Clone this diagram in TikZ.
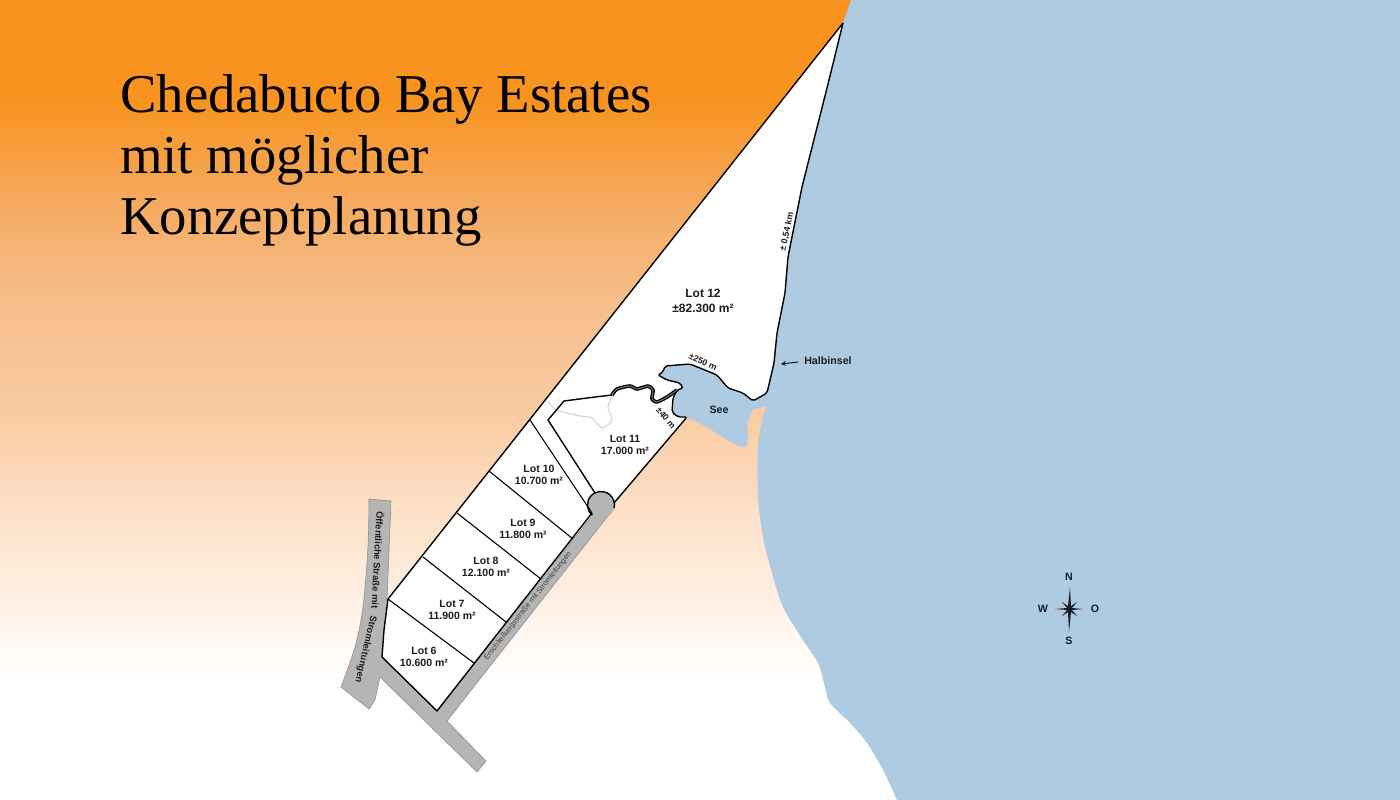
\documentclass[tikz,border=0pt]{standalone}
\usepackage{fontspec}
\setmainfont{Liberation Serif}
\setsansfont{Liberation Sans}
\newlength{\du}
\setlength{\du}{0.75pt}
\definecolor{seacolor}{rgb}{0.686275, 0.796078, 0.886275}
\definecolor{roadcolor}{rgb}{0.710000, 0.710000, 0.710000}
\definecolor{inkcolor}{rgb}{0.110000, 0.110000, 0.120000}
\definecolor{orange0}{rgb}{0.968627, 0.576471, 0.117647}
\definecolor{orange1}{rgb}{0.960000, 0.665000, 0.370000}
\definecolor{orange2}{rgb}{0.960000, 0.745000, 0.545000}
\definecolor{orange3}{rgb}{0.980000, 0.800000, 0.640000}
\definecolor{orange4}{rgb}{0.990000, 0.870000, 0.770000}
\definecolor{orange5}{rgb}{0.998000, 0.940000, 0.890000}
\pgfdeclareverticalshading{landshade}{100bp}{
  color(0bp)=(white); color(25bp)=(white); color(32.5bp)=(white);
  color(37.5bp)=(orange5); color(43.75bp)=(orange4); color(48.75bp)=(orange3);
  color(56.25bp)=(orange2); color(62.5bp)=(orange1); color(68.75bp)=(orange0);
  color(75bp)=(orange0); color(100bp)=(orange0)}
\tikzset{
  landline/.style={draw=black, line width=1.4\du, line join=round},
  lotline/.style={draw=black, line width=1.1\du},
  roadfill/.style={fill=roadcolor, draw=roadcolor!80!black, line width=0.6\du},
  lotlabel/.style={font=\sffamily\bfseries\fontsize{7.9}{9.2}\selectfont, text=inkcolor, align=center, inner sep=0pt},
  biglabel/.style={font=\sffamily\bfseries\fontsize{9}{11}\selectfont, text=inkcolor, align=center, inner sep=0pt},
  dimlabel/.style={font=\sffamily\bfseries\fontsize{6.6}{8}\selectfont, text=inkcolor, inner sep=0pt},
  pointlabel/.style={font=\sffamily\bfseries\fontsize{8}{9}\selectfont, text=inkcolor, inner sep=0pt},
  roadlabel/.style={font=\sffamily\bfseries\fontsize{7}{8}\selectfont, text=inkcolor, inner sep=0pt}
}

\begin{document}
\begin{tikzpicture}
\pgftransformxscale{1.000000}
\pgftransformyscale{-1.000000}
\useasboundingbox (0\du,0\du) rectangle (1400\du,800\du);
% land
\path[shading=landshade] (0\du,0\du) rectangle (1400\du,800\du);
% sea
\fill[seacolor] (851\du,0\du)--(1400\du,0\du)--(1400\du,800\du)--(897\du,800\du)
  --plot[smooth,tension=0.5] coordinates {(897\du,800\du)(883\du,770\du)(867\du,743\du)(850\du,723\du)(830\du,703\du)(825\du,687\du)(818\du,663\du)(803\du,640\du)(783\du,607\du)(772\du,573\du)(763\du,537\du)(758\du,497\du)(758\du,447\du)(763\du,417\du)(767\du,405\du)}
  --(767\du,393\du)--(774\du,363\du)--(777\du,333\du)--(785\du,293\du)--(788\du,257\du)--(802\du,187\du)--(829\du,80\du)--(843\du,23\du)--cycle;
% roads
\fill[roadfill] (369\du,499\du)--(391\du,501\du)--(387\du,600\du)--(382\du,657\du)--(437\du,711\du)--(592.3\du,515.3\du)
  arc[start angle=130,end angle=373,radius=13.5\du]
  --(447\du,721\du)--(486\du,761\du)--(477\du,772\du)--(380\du,677\du)--(375\du,700\du)--(369\du,709\du)--(341\du,687\du)
  --plot[smooth,tension=0.5] coordinates {(341\du,687\du)(355\du,647\du)(363\du,607\du)(368\du,547\du)(369\du,499\du)}--cycle;
% peninsula and lots
\fill[white] (843\du,23\du)--(387\du,600\du)--(382\du,657\du)--(437\du,711\du)--(592\du,515\du)--(595\du,493\du)--(614\du,503\du)--(687\du,417\du)--(700\du,380\du)--(753\du,401\du)--(767\du,393\du)--(774\du,363\du)--(777\du,333\du)--(785\du,293\du)--(788\du,257\du)--(802\du,187\du)--(829\du,80\du)--cycle;
\fill[roadcolor] (601\du,505\du) circle[radius=13.5\du];
% lake
\fill[seacolor, rounded corners=2\du] (658\du,375\du)--(663\du,372\du)--(665\du,366\du)--(690\du,364\du)--(717\du,375\du)--(728\du,388\du)--(743\du,393\du)--(753\du,401\du)--(767\du,393\du)--(770\du,405\du)--(752\du,410\du)--(747\du,425\du)--(748\du,437\du)--(747\du,447\du)--(740\du,447\du)--(727\du,440\du)--(707\du,427\du)--(687\du,417\du)--(678\du,417\du)--(672\du,412\du)--(673\du,398\du)--(677\du,390\du)--(683\du,388\du)--(680\du,383\du)--(667\du,380\du)--cycle;
% brook
\draw[seacolor!70!white, line width=1.2\du] plot[smooth,tension=0.5] coordinates {(548\du,401\du)(557\du,410\du)(580\du,416\du)(592\du,418\du)(602\du,428\du)(612\du,420\du)(608\du,407\du)(613\du,395\du)};
% boundary lines
\draw[landline] (843\du,23\du)--(388\du,599\du)--(384\du,630\du)--(382\du,657\du)--(437\du,711\du)--(592\du,513\du);
\draw[landline, rounded corners=2\du] (843\du,23\du)--(829\du,80\du)--(802\du,187\du)--(788\du,257\du)--(785\du,293\du)--(777\du,333\du)--(774\du,363\du)--(767\du,393\du)--(753\du,401\du)--(743\du,393\du)--(728\du,388\du)--(717\du,375\du)--(690\du,364\du)--(665\du,366\du)--(663\du,372\du)--(658\du,375\du)--(667\du,380\du)--(680\du,383\du)--(683\du,388\du)--(677\du,390\du)--(673\du,398\du)--(672\du,412\du)--(678\du,417\du)--(687\du,417\du)--(614\du,503\du);
\draw[landline] (595\du,493\du)--(548\du,420\du)--(564\du,401\du)--(595\du,397\du)--(612\du,395\du);
\draw[lotline] (530\du,420\du)--(592\du,513\du);
\draw[lotline] (489\du,471\du)--(573\du,539\du);
\draw[lotline] (457\du,513\du)--(541\du,579\du);
\draw[lotline] (423\du,557\du)--(506\du,622\du);
\draw[lotline] (388\du,599\du)--(474\du,663\du);
\draw[black, line width=1.4\du] (592.3\du,515.3\du) arc[start angle=130,end angle=373,radius=13.5\du];
% river
\draw[black, line width=3.6\du, line join=round] plot[smooth,tension=0.4] coordinates {(612\du,395\du)(617\du,389\du)(630\du,386\du)(637\du,389\du)(648\du,386\du)(653\du,390\du)(652\du,399\du)(657\du,402\du)(667\du,397\du)(677\du,390\du)};
\draw[seacolor!60!black, line width=1\du, line join=round] plot[smooth,tension=0.4] coordinates {(612\du,395\du)(617\du,389\du)(630\du,386\du)(637\du,389\du)(648\du,386\du)(653\du,390\du)(652\du,399\du)(657\du,402\du)(667\du,397\du)(677\du,390\du)};
% title
\node[anchor=west, align=left, inner sep=0pt, text=black, font=\fontsize{41}{45.75}\selectfont] (title) at (120\du,160\du){Chedabucto Bay Estates\\mit möglicher\\Konzeptplanung};
% lot labels
\node[biglabel] (lottwelve) at (703\du,301\du){Lot 12\\±82.300 m²};
\node[lotlabel] (loteleven) at (625\du,445\du){Lot 11\\17.000 m²};
\node[lotlabel] (lotten) at (539\du,475\du){Lot 10\\10.700 m²};
\node[lotlabel] (lotnine) at (523\du,529\du){Lot 9\\11.800 m²};
\node[lotlabel] (loteight) at (486\du,567\du){Lot 8\\12.100 m²};
\node[lotlabel] (lotseven) at (452\du,610\du){Lot 7\\11.900 m²};
\node[lotlabel] (lotsix) at (424\du,657\du){Lot 6\\10.600 m²};
% water and dimensions
\node[lotlabel, font=\sffamily\bfseries\fontsize{8}{9}\selectfont] (see) at (719\du,410\du){See};
\node[pointlabel, anchor=west] (halbinsel) at (804\du,361\du){Halbinsel};
\coordinate (halbinseltip) at (781\du,364\du);
\draw[-stealth, black, line width=0.9\du] (798\du,362\du)--(halbinseltip);
\node[dimlabel, rotate=78] (coastlength) at (787\du,232\du){± 0,54 km};
\node[dimlabel, rotate=-25] (lakelength) at (703\du,362\du){±250 m};
\node[dimlabel, rotate=-50] (lakewidth) at (666\du,418\du){±40 m};
% road names
\node[roadlabel, rotate=-93] (publicroad) at (378\du,560\du){Öffentliche Straße mit};
\node[roadlabel, rotate=-103] (publicroadend) at (365.5\du,649\du){Stromleitungen};
\node[inner sep=0pt, text=black!75, font=\sffamily\fontsize{5.7}{7}\selectfont, rotate=51.5] (accessroad) at (528\du,606\du){Erschließungsstraße mit Stromleitungen};
% compass
\fill[inkcolor] (1070\du,587\du)--(1071\du,606\du)--(1077\du,602\du)--(1072\du,608\du)--(1083\du,609\du)--(1072\du,610\du)--(1077\du,616\du)--(1071\du,612\du)--(1069\du,632\du)--(1068\du,612\du)--(1062\du,616\du)--(1067\du,610\du)--(1055\du,609\du)--(1067\du,608\du)--(1062\du,602\du)--(1068\du,606\du)--cycle;
\node[pointlabel] (north) at (1069\du,577\du){N};
\node[pointlabel] (south) at (1069\du,641\du){S};
\node[pointlabel] (west) at (1043\du,609\du){W};
\node[pointlabel] (east) at (1095\du,609\du){O};
\end{tikzpicture}
\end{document}
